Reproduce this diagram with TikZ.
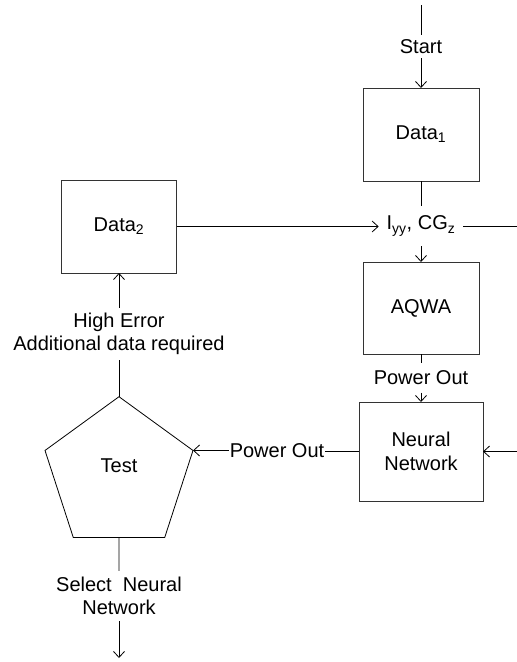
\documentclass[tikz,border=0pt]{standalone}
\usepackage{fontspec}
\setmainfont{Liberation Sans}
\usetikzlibrary{arrows.meta,shapes.geometric,calc}
\begin{document}
\begin{tikzpicture}[x=1pt,y=-1pt,
  every node/.style={font=\fontsize{20}{23.5}\selectfont, align=center},
  box/.style={draw=black!80, line width=0.9pt, inner sep=0pt, outer sep=0pt},
  lbl/.style={inner sep=0pt, outer sep=0pt},
  conn/.style={draw=black, line width=0.8pt},
  arr/.style={conn, -{Straight Barb[length=6pt,width=11pt]}}]
\useasboundingbox (0,0) rectangle (517,662);

% right column
\coordinate (top) at (421,5);
\node[lbl, inner ysep=4.5pt] (start) at (421,46.5) {Start};
\node[box, minimum width=116pt, minimum height=93pt] (data1) at (421,134.5) {Data\textsubscript{1}};
\node[lbl, inner xsep=8pt, minimum height=40pt] (iyy) at (421,226) {I\textsubscript{yy}, CG\textsubscript{z}};
\coordinate (redge1) at (517,226);
\node[box, minimum width=116pt, minimum height=92pt] (aqwa) at (421,308) {AQWA};
\node[lbl, inner ysep=7.5pt] (pout1) at (421,378) {Power Out};
\node[box, minimum width=124pt, minimum height=99pt] (nn) at (421,451.5) {Neural\\Network};
\coordinate (redge2) at (517,451.5);

% left column
\node[box, minimum width=115pt, minimum height=93pt] (data2) at (119,226.5) {Data\textsubscript{2}};
\node[lbl, inner ysep=5pt] (herr) at (119,334) {High Error\\Additional data required};
\node[draw, regular polygon, regular polygon sides=5, minimum size=155.6pt,
      inner sep=0pt, outer sep=0pt, text depth=18pt, line width=0.8pt] (test) at (119,474.5) {Test};
\node[lbl, inner xsep=1pt] (pout2) at (277,450.5) {Power Out};
\node[lbl, inner ysep=6pt] (sel) at (119,596) {Select\ \ Neural\\Network};
\coordinate (bot) at (119,658);

% connectors
\draw[conn] (top) -- (start.north);
\draw[arr] (start.south) -- (data1.north);
\draw[conn] (data1.south) -- (iyy.north);
\draw[arr] (iyy.south) -- (aqwa.north);
\draw[conn] (iyy.east) -- (redge1);
\draw[arr] (data2.east) -- (data2.east -| iyy.west);
\draw[conn] (aqwa.south) -- (pout1.north);
\draw[arr] (pout1.south) -- (nn.north);
\draw[arr] (redge2) -- (nn.east);
\draw[conn] (nn.west) -- (nn.west -| pout2.east);
\draw[arr] (pout2.west) -- (test.corner 5);
\draw[conn] (test.corner 1) -- (herr.south);
\draw[arr] (herr.north) -- (data2.south);
\draw[conn] (test.south) -- (sel.north);
\draw[arr] (sel.south) -- (bot);
\end{tikzpicture}
\end{document}
